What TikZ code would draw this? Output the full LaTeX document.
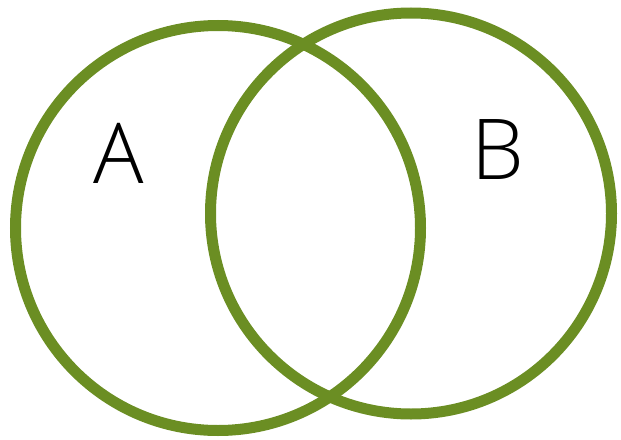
\documentclass[tikz,border=0pt]{standalone}
\usepackage{fontspec}
\setmainfont{Open Sans}[UprightFont=* Light]
\definecolor{ringgreen}{HTML}{6B8E23}
\begin{document}
\begin{tikzpicture}[x=1pt,y=-1pt,
  ring/.style={draw=ringgreen,line width=11pt},
  lbl/.style={font=\fontsize{84}{84}\selectfont,text=black,inner sep=0pt}]
\useasboundingbox (0,0) rectangle (621,439);
\node[ring,circle,minimum size=405pt,inner sep=0pt] (left) at (218,228) {};
\node[ring,circle,minimum size=401pt,inner sep=0pt] (right) at (411,213.5) {};
\node[lbl,anchor=base] (a) at (119,183) {A};
\node[lbl,anchor=base] (b) at (498,179) {B};
\end{tikzpicture}
\end{document}
